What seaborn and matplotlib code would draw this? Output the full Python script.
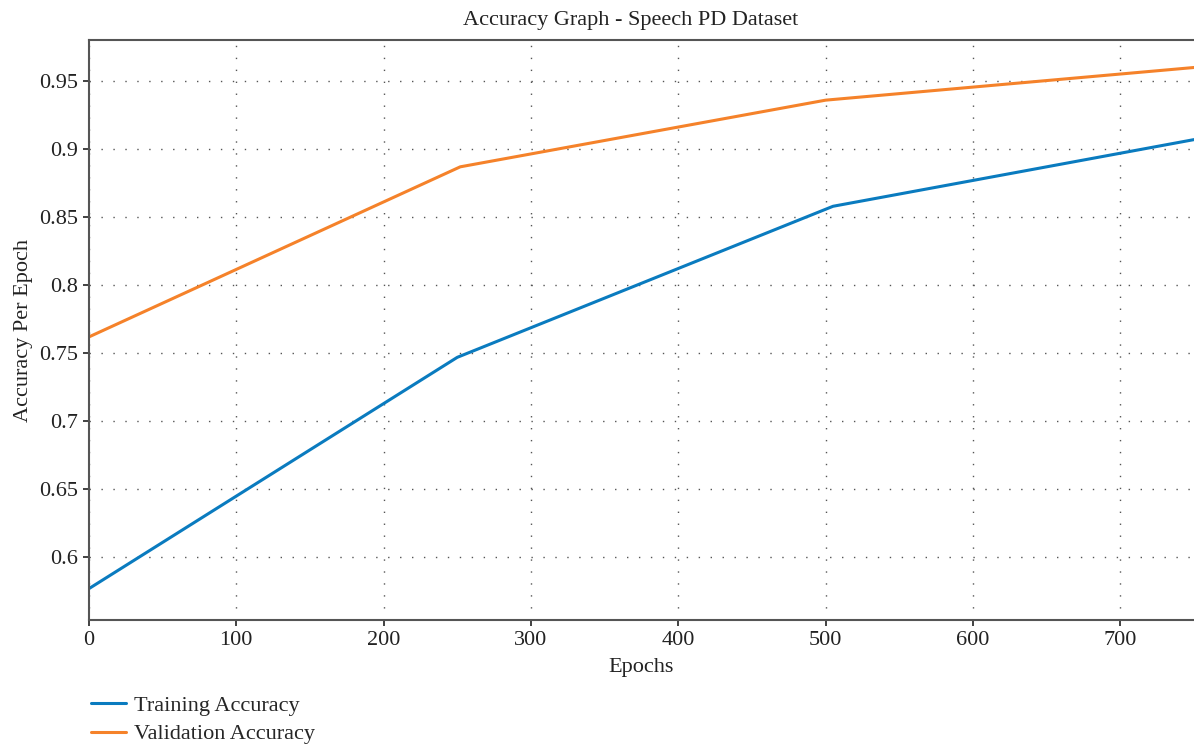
import pandas as pd
import seaborn as sns
import matplotlib.pyplot as plt
from matplotlib.ticker import MultipleLocator

# datos
epochs_train = [0, 250, 505, 750]
acc_train = [0.577, 0.747, 0.858, 0.907]
epochs_val = [0, 252, 500, 750]
acc_val = [0.762, 0.887, 0.936, 0.960]
series_names = ["Training Accuracy", "Validation Accuracy"]
colors = ["#0a7bbf", "#f5822a"]
ytick_vals = [0.6, 0.65, 0.7, 0.75, 0.8, 0.85, 0.9, 0.95]
ytick_labels = ["0.6", "0.65", "0.7", "0.75", "0.8", "0.85", "0.9", "0.95"]

df = pd.concat([
    pd.DataFrame({"Epochs": epochs_train, "Accuracy": acc_train, "serie": series_names[0]}),
    pd.DataFrame({"Epochs": epochs_val, "Accuracy": acc_val, "serie": series_names[1]}),
])

sns.set_style("white")
plt.rcParams["font.family"] = ["Liberation Serif", "DejaVu Serif"]

fig = plt.figure(figsize=(11.94, 7.46), dpi=100)
ax = fig.add_axes([0.0745, 0.169, 0.9255, 0.777])

sns.lineplot(data=df, x="Epochs", y="Accuracy", hue="serie", palette=colors,
             linewidth=2.2, ax=ax, sort=False)

ax.set_xlim(0, 750)
ax.set_ylim(0.554, 0.980)
ax.xaxis.set_major_locator(MultipleLocator(100))
ax.set_yticks(ytick_vals)
ax.set_yticklabels(ytick_labels)
ax.grid(True, linestyle=(0, (1, 7.6)), color="#555555", linewidth=1.0)

for s in ["left", "bottom", "top"]:
    ax.spines[s].set_color("#555555")
    ax.spines[s].set_linewidth(1.5)
ax.spines["right"].set_visible(False)

ax.tick_params(axis="both", labelsize=16, colors="#222222", length=4, width=1.3,
               direction="out", color="#333333", bottom=True, left=True, pad=4)
ax.set_xlabel("Epochs", fontsize=16, color="#222222", labelpad=6)
ax.set_ylabel("Accuracy Per Epoch", fontsize=16, color="#222222", labelpad=4)
ax.set_title("Accuracy Graph - Speech PD Dataset", fontsize=16, color="#222222",
             pad=11, x=0.49)

ax.legend(loc="upper left", bbox_to_anchor=(-0.0065, -0.115), frameon=False,
          fontsize=16, handlelength=1.6, handletextpad=0.35, labelspacing=0.35,
          borderaxespad=0)

fig.savefig("out.png", dpi=100)
